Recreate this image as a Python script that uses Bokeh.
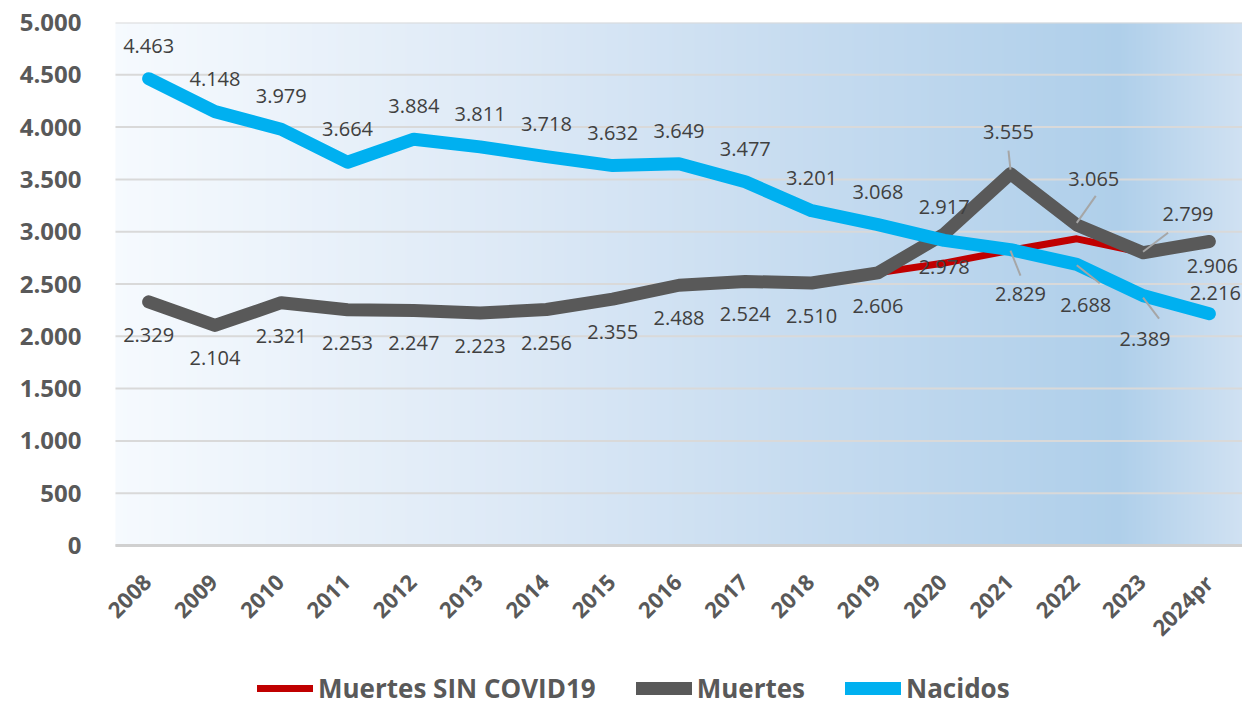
import numpy as np
from bokeh.plotting import figure
from bokeh.models import (ColumnDataSource, FixedTicker, Legend, LegendItem,
                          Range1d)
from bokeh.core.properties import value
from bokeh.embed import file_html
from bokeh.resources import INLINE

# ---------------- data ----------------
years = ["2008", "2009", "2010", "2011", "2012", "2013", "2014", "2015", "2016",
         "2017", "2018", "2019", "2020", "2021", "2022", "2023", "2024pr"]
nacidos = [4463, 4148, 3979, 3664, 3884, 3811, 3718, 3632, 3649, 3477, 3201,
           3068, 2917, 2829, 2688, 2389, 2216]
muertes = [2329, 2104, 2321, 2253, 2247, 2223, 2256, 2355, 2488, 2524, 2510,
           2606, 2978, 3555, 3065, 2799, 2906]
muertes_sin_covid = [2329, 2104, 2321, 2253, 2247, 2223, 2256, 2355, 2488, 2524,
                     2510, 2606, 2700, 2822, 2932, 2799, 2906]
y_ticks = [0, 500, 1000, 1500, 2000, 2500, 3000, 3500, 4000, 4500, 5000]
y_tick_labels = ["0", "500", "1.000", "1.500", "2.000", "2.500", "3.000",
                 "3.500", "4.000", "4.500", "5.000"]

# label offsets in screen pixels (right, up)
nac_off = [(0, 33)] * 13 + [(10, -44), (9, -41), (2, -43), (6, 21)]
mue_off = [(0, -33)] * 13 + [(-2, 42), (17, 46), (45, 39), (3, -24)]
# leader lines: (index, series, start_px, end_px)
leaders = [(13, "m", (-2, 23), (0, 4)), (14, "m", (19, 29), (0, 2)),
           (15, "m", (25, 20), (0, 1)), (13, "n", (10, -26), (0, -1)),
           (14, "n", (23, -19), (0, -1)), (15, "n", (16, -23), (0, -2))]

# ---------------- geometry ----------------
W, H = 1242, 706
TOP, LEFT = 22, 115      # plot-area top-left corner in pixels
PAD_L = 22               # extra frame room left of the plot area (for labels)
PLOT_H = 523             # pixels from 5000 down to 0
PLOT_W = W - LEFT
FW, FH = PLOT_W + PAD_L, H - TOP
n = len(years)
x = list(range(n))
YMAX = 5000
px_y = YMAX / PLOT_H
YMIN = -(FH - PLOT_H) * px_y
X0, X1 = -0.5, n - 0.5          # plot-area category extent
px_x = (X1 - X0) / PLOT_W
XMIN = X0 - PAD_L * px_x

def fmt(v):
    return f"{v:,}".replace(",", ".")

p = figure(frame_width=FW, frame_height=FH, output_backend="svg",
           toolbar_location=None, x_range=Range1d(XMIN, X1),
           y_range=Range1d(YMIN, YMAX), min_border_left=LEFT - PAD_L,
           min_border_right=0, min_border_top=TOP, min_border_bottom=0)
p.outline_line_color = None
p.background_fill_color = "white"
p.border_fill_color = "white"

# gradient background (plot area only, 0..5000)
stops = [(0.0, (246, 250, 254)), (0.35, (221, 233, 246)), (0.6, (199, 220, 240)),
         (0.89, (175, 207, 234)), (1.0, (208, 225, 242))]
cols = 1200
img = np.zeros((2, cols), dtype=np.uint32)
view = img.view(dtype=np.uint8).reshape((2, cols, 4))
for i in range(cols):
    t = i / (cols - 1)
    for k in range(len(stops) - 1):
        t0, c0 = stops[k]
        t1, c1 = stops[k + 1]
        if t0 <= t <= t1:
            f = (t - t0) / (t1 - t0)
            c = [int(round(c0[j] + (c1[j] - c0[j]) * f)) for j in range(3)]
            break
    view[:, i, 0], view[:, i, 1], view[:, i, 2], view[:, i, 3] = c[0], c[1], c[2], 255
p.image_rgba(image=[img], x=X0, y=0, dw=X1 - X0, dh=YMAX, level="image")

# grid lines limited to the plot area
p.xgrid.grid_line_color = None
p.ygrid.grid_line_color = None
p.segment(x0=[X0] * len(y_ticks), y0=y_ticks, x1=[X1] * len(y_ticks),
          y1=y_ticks, line_color="#d9d9d9", line_width=2, level="underlay")

p.yaxis.ticker = FixedTicker(ticks=y_ticks)
p.yaxis.major_label_overrides = {t: l for t, l in zip(y_ticks, y_tick_labels)}
p.yaxis.axis_line_color = None
p.yaxis.major_tick_line_color = None
p.yaxis.minor_tick_line_color = None
p.yaxis.major_label_text_font = "Open Sans"
p.yaxis.major_label_text_font_style = "bold"
p.yaxis.major_label_text_font_size = "24px"
p.yaxis.major_label_text_color = "#595959"
p.yaxis.major_label_standoff = 28 - PAD_L
p.xaxis.visible = False

# category axis baseline
p.segment(x0=[X0], y0=[0], x1=[X1], y1=[0], line_color="#d0d0d0",
          line_width=3, level="underlay")

# category labels, rotated, below the zero line
p.text(x=[i - 1 * px_x for i in x], y=[-33 * px_y] * n, text=years,
       angle=np.pi / 4, text_align="right", text_baseline="middle",
       text_font=value("Open Sans"), text_font_style="bold",
       text_font_size="22px", text_color="#595959")

src = ColumnDataSource(dict(x=x, n=nacidos, m=muertes, r=muertes_sin_covid))
r_red = p.line("x", "r", source=src, line_color="#c00000", line_width=7,
               line_join="round", line_cap="round")
r_grey = p.line("x", "m", source=src, line_color="#595959", line_width=13,
                line_join="round", line_cap="round")
r_blue = p.line("x", "n", source=src, line_color="#00b0f0", line_width=13,
                line_join="round", line_cap="round")

# leader lines
lx0, ly0, lx1, ly1 = [], [], [], []
for idx, s, st, en in leaders:
    v = muertes[idx] if s == "m" else nacidos[idx]
    lx0.append(idx + st[0] * px_x); ly0.append(v + st[1] * px_y)
    lx1.append(idx + en[0] * px_x); ly1.append(v + en[1] * px_y)
p.segment(x0=lx0, y0=ly0, x1=lx1, y1=ly1, line_color="#a6a6a6", line_width=2)

# data labels
lab = dict(x=[], y=[], t=[])
for i in range(n):
    lab["x"].append(i + nac_off[i][0] * px_x)
    lab["y"].append(nacidos[i] + nac_off[i][1] * px_y)
    lab["t"].append(fmt(nacidos[i]))
    lab["x"].append(i + mue_off[i][0] * px_x)
    lab["y"].append(muertes[i] + mue_off[i][1] * px_y)
    lab["t"].append(fmt(muertes[i]))
p.text("x", "y", text="t", source=ColumnDataSource(lab),
       text_font=value("Open Sans"), text_font_size="20px",
       text_color="#404040", text_align="center", text_baseline="middle")

legend = Legend(items=[LegendItem(label="Muertes SIN COVID19", renderers=[r_red]),
                       LegendItem(label="Muertes", renderers=[r_grey]),
                       LegendItem(label="Nacidos", renderers=[r_blue])],
                orientation="horizontal", location=(142 + PAD_L, 0),
                glyph_width=56, glyph_height=20, label_height=20,
                label_standoff=5, spacing=40,
                label_text_font="Open Sans", label_text_font_style="bold",
                label_text_font_size="26px", label_text_color="#595959",
                background_fill_alpha=0, border_line_color=None,
                padding=0, margin=0)
p.add_layout(legend, "center")

open("out.html", "w").write(file_html(p, INLINE))
